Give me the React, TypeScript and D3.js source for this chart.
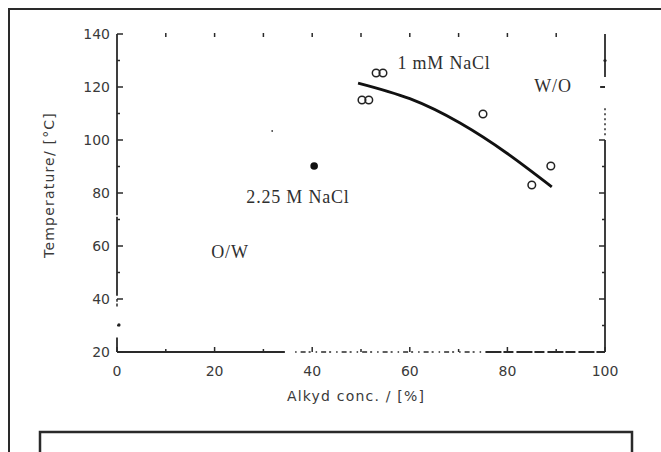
import React, { useEffect, useRef } from 'react';
import * as d3 from 'd3';

// 1 mM NaCl data (open circles)
const conc1mM = [50.2, 51.6, 53.1, 54.5, 75, 85, 88.9];
const temp1mM = [115.1, 115.1, 125.3, 125.3, 109.8, 83, 90.2];
// 2.25 M NaCl (filled)
const conc225 = [40.4];
const temp225 = [90.2];
// fitted boundary line
const curveX = [49.4, 60, 70.3, 79.9, 89.1];
const curveY = [121.5, 115.6, 106.4, 95, 82.3];

const xTicks = [0, 20, 40, 60, 80, 100];
const yTicks = [20, 40, 60, 80, 100, 120, 140];

const W = 661, H = 452;

export default function App() {
  const ref = useRef<SVGSVGElement>(null);

  useEffect(() => {
    const svg = d3.select(ref.current);
    svg.selectAll('*').remove();

    const x = d3.scaleLinear().domain([0, 100]).range([117, 605]);
    const y = d3.scaleLinear().domain([20, 140]).range([352, 34]);
    const ink = '#2a2a2a';

    // outer frame and lower box
    svg.append('path').attr('d', `M9,${H + 5} L9,9 L${W + 5},9`)
      .attr('fill', 'none').attr('stroke', ink).attr('stroke-width', 2);
    svg.append('path').attr('d', `M40,${H + 5} L40,432 L632,432 L632,${H + 5}`)
      .attr('fill', 'none').attr('stroke', ink).attr('stroke-width', 2.5);

    const g = svg.append('g');
    const vseg = (c: number, t0: number, t1: number, w = 1.8, dash = '') =>
      g.append('line').attr('x1', x(c)).attr('x2', x(c)).attr('y1', y(t0)).attr('y2', y(t1))
        .attr('stroke', ink).attr('stroke-width', w).attr('stroke-dasharray', dash || null);
    const hseg = (t: number, c0: number, c1: number, w = 1.8, dash = '') =>
      g.append('line').attr('x1', x(c0)).attr('x2', x(c1)).attr('y1', y(t)).attr('y2', y(t))
        .attr('stroke', ink).attr('stroke-width', w).attr('stroke-dasharray', dash || null);

    // left axis: solid with small breaks near the bottom (scan wear)
    vseg(0, 140, 71.6);
    vseg(0, 71, 41.2);
    vseg(0, 40, 39, 1.5);
    vseg(0, 38.3, 37.2, 1.5);
    vseg(0, 25.5, 20);

    // bottom axis
    hseg(20, 0, 34.4);
    hseg(20, 36.5, 75, 1.3, '1.5,4,5,3,2,5');
    hseg(20, 75.5, 100, 1.8, '16,2,10,3');

    // right axis, partly broken
    vseg(100, 140, 123.8);
    vseg(100, 112, 101, 1.5, '2,3');
    vseg(100, 100, 20);
    hseg(120, 99, 100, 2);

    // ticks
    const minorX = d3.range(0, 101, 10);
    const minorY = d3.range(20, 141, 10);
    g.selectAll('.tb').data(minorX).enter().append('line')
      .attr('x1', d => x(d)).attr('x2', d => x(d)).attr('y1', y(20))
      .attr('y2', d => y(20) - (d % 20 === 0 ? 5 : 3))
      .attr('stroke', ink).attr('stroke-width', 1.5);
    g.selectAll('.tt').data(minorX.slice(1, 10)).enter().append('line')
      .attr('x1', d => x(d)).attr('x2', d => x(d)).attr('y1', y(140) - 1).attr('y2', y(140) + 3)
      .attr('stroke', ink).attr('stroke-width', 1.5);
    g.selectAll('.tl').data(minorY).enter().append('line')
      .attr('x1', x(0)).attr('x2', d => x(0) + (d % 20 === 0 ? 6 : 3))
      .attr('y1', d => y(d)).attr('y2', d => y(d))
      .attr('stroke', ink).attr('stroke-width', 1.5);
    g.selectAll('.tr').data(minorY.filter(d => d <= 100 && d > 20)).enter().append('line')
      .attr('x1', x(100)).attr('x2', d => x(100) - (d % 20 === 0 ? 6 : 3))
      .attr('y1', d => y(d)).attr('y2', d => y(d))
      .attr('stroke', ink).attr('stroke-width', 1.5);

    // tick labels
    const sans = 'DejaVu Sans, Verdana, sans-serif';
    g.selectAll('.xl').data(xTicks).enter().append('text')
      .attr('x', d => x(d)).attr('y', 376).attr('text-anchor', 'middle')
      .attr('font-family', sans).attr('font-size', 14).attr('fill', '#3a3a3a').text(d => d);
    g.selectAll('.yl').data(yTicks).enter().append('text')
      .attr('x', 110).attr('y', d => y(d) + 5).attr('text-anchor', 'end')
      .attr('font-family', sans).attr('font-size', 14).attr('fill', '#3a3a3a').text(d => d);

    // axis titles
    g.append('text').attr('x', 356).attr('y', 401).attr('text-anchor', 'middle')
      .attr('font-family', sans).attr('font-size', 14).attr('letter-spacing', 1.2)
      .attr('fill', '#3a3a3a').text('Alkyd conc. / [%]');
    g.append('text').attr('transform', 'translate(54,185) rotate(-90)')
      .attr('text-anchor', 'middle').attr('font-family', sans).attr('font-size', 14)
      .attr('letter-spacing', 1.2).attr('fill', '#3a3a3a').text('Temperature/ [°C]');

    // boundary curve
    const line = d3.line<number>()
      .x((_, i) => x(curveX[i])).y(d => y(d)).curve(d3.curveNatural);
    g.append('path').attr('d', line(curveY)).attr('fill', 'none')
      .attr('stroke', '#111').attr('stroke-width', 2.8);

    // points
    g.selectAll('.o').data(conc1mM).enter().append('circle')
      .attr('cx', d => x(d)).attr('cy', (_, i) => y(temp1mM[i])).attr('r', 3.8)
      .attr('fill', 'none').attr('stroke', '#222').attr('stroke-width', 1.5);
    g.selectAll('.f').data(conc225).enter().append('circle')
      .attr('cx', d => x(d)).attr('cy', (_, i) => y(temp225[i])).attr('r', 3.8)
      .attr('fill', '#111');
    // stray specks on the scan
    g.append('circle').attr('cx', x(31.8)).attr('cy', y(103.4)).attr('r', 0.9).attr('fill', '#444');
    g.append('circle').attr('cx', x(0.4)).attr('cy', y(30.2)).attr('r', 1.6).attr('fill', '#222');
    g.append('circle').attr('cx', x(100)).attr('cy', y(130)).attr('r', 1.6).attr('fill', '#222');

    // annotations
    const serif = 'Liberation Serif, Times New Roman, serif';
    const notes = [
      { t: '1 mM NaCl', px: 444, py: 63 },
      { t: 'W/O', px: 553, py: 86 },
      { t: '2.25 M NaCl', px: 298, py: 197 },
      { t: 'O/W', px: 230, py: 252 },
    ];
    g.selectAll('.n').data(notes).enter().append('text')
      .attr('x', d => d.px).attr('y', d => d.py + 6).attr('text-anchor', 'middle')
      .attr('font-family', serif).attr('font-size', 18).attr('letter-spacing', 0.8)
      .attr('fill', '#2f2f2f').text(d => d.t);
  }, []);

  return (
    <svg ref={ref} width={W} height={H}
      style={{ position: 'absolute', left: 0, top: 0, background: '#fff' }} />
  );
}
